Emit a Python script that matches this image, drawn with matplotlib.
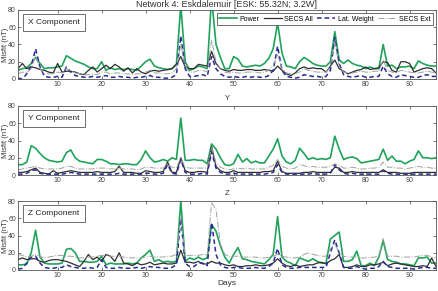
import numpy as np
import matplotlib
matplotlib.use('Agg')
import matplotlib.pyplot as plt

plt.rcParams['font.family'] = ['Liberation Sans', 'DejaVu Sans']

days = np.arange(1, 97)

# X component misfits (nT)
x_power = [10, 12, 13, 18, 25, 18, 12, 13, 13, 14, 15, 27, 24, 21, 19, 17, 14, 12, 12, 20,
           10, 13, 11, 12, 11, 12, 11, 10, 15, 20, 23, 15, 13, 12, 11, 12, 17, 85, 20, 10,
           12, 15, 14, 12, 95, 40, 25, 12, 12, 26, 23, 15, 14, 15, 16, 15, 18, 24, 35, 65,
           30, 15, 14, 12, 20, 25, 22, 18, 16, 15, 15, 20, 55, 22, 18, 22, 18, 16, 15, 12,
           14, 12, 12, 40, 15, 16, 12, 14, 14, 15, 12, 21, 18, 16, 15, 15]
x_secs_all = [12, 18, 12, 14, 13, 11, 10, 8, 7, 18, 8, 9, 9, 8, 6, 5, 10, 14, 8, 12,
              16, 12, 17, 14, 9, 13, 7, 12, 8, 6, 9, 10, 9, 10, 11, 12, 17, 26, 14, 12,
              12, 17, 16, 15, 32, 18, 12, 10, 9, 11, 10, 10, 11, 11, 10, 10, 11, 10, 9, 15,
              10, 6, 4, 7, 12, 14, 12, 13, 12, 12, 8, 15, 22, 12, 9, 6, 8, 10, 11, 14,
              11, 12, 13, 20, 19, 10, 8, 20, 20, 18, 8, 10, 12, 13, 12, 7]
x_lat_weight = [1, 0, 6, 15, 35, 14, 3, 2, 2, 3, 2, 14, 8, 4, 3, 2, 2, 3, 2, 3,
                4, 2, 2, 3, 2, 2, 1, 2, 2, 3, 4, 2, 2, 1, 1, 2, 5, 50, 12, 3,
                3, 4, 5, 3, 26, 12, 6, 3, 2, 3, 2, 2, 3, 2, 3, 2, 2, 4, 10, 38,
                10, 3, 2, 1, 2, 5, 4, 3, 3, 2, 3, 10, 48, 18, 5, 3, 2, 3, 4, 2,
                2, 3, 3, 15, 6, 3, 2, 5, 4, 3, 2, 2, 4, 5, 3, 3]
x_secs_ext = [6, 8, 7, 12, 27, 12, 6, 6, 6, 8, 7, 12, 10, 7, 6, 5, 5, 6, 5, 8,
              8, 6, 7, 7, 6, 6, 5, 6, 6, 8, 10, 7, 7, 6, 6, 7, 12, 40, 15, 8,
              8, 10, 10, 8, 45, 20, 12, 8, 7, 8, 7, 7, 8, 8, 8, 7, 8, 10, 16, 28,
              12, 7, 6, 6, 8, 12, 10, 9, 8, 8, 8, 15, 42, 15, 8, 7, 7, 8, 9, 8,
              8, 9, 9, 22, 10, 8, 7, 10, 9, 8, 7, 7, 8, 9, 8, 7]

# Y component misfits (nT)
y_power = [12, 12, 15, 34, 31, 25, 20, 17, 16, 15, 16, 26, 29, 20, 16, 15, 14, 13, 18, 18,
           16, 13, 13, 12, 13, 13, 12, 12, 18, 28, 20, 15, 16, 18, 16, 20, 18, 66, 17, 17,
           18, 17, 17, 13, 36, 30, 20, 12, 11, 13, 24, 15, 19, 14, 16, 14, 14, 22, 30, 42,
           22, 15, 13, 17, 31, 25, 18, 20, 18, 19, 18, 20, 45, 30, 18, 20, 21, 19, 14, 15,
           16, 17, 18, 30, 17, 22, 16, 16, 13, 16, 18, 28, 20, 20, 19, 20]
y_secs_all = [3, 3, 4, 6, 8, 3, 2, 1, 5, 2, 3, 4, 5, 4, 3, 3, 3, 3, 4, 3,
              3, 3, 4, 10, 3, 3, 3, 2, 2, 5, 4, 3, 3, 4, 15, 3, 3, 20, 5, 3,
              3, 4, 4, 3, 33, 10, 5, 3, 3, 5, 3, 3, 3, 3, 3, 3, 4, 4, 5, 16,
              4, 2, 2, 2, 2, 3, 3, 4, 3, 3, 3, 3, 9, 8, 3, 3, 4, 3, 3, 3,
              3, 3, 3, 6, 3, 3, 3, 2, 2, 2, 3, 3, 3, 3, 3, 3]
y_lat_weight = [1, 1, 2, 5, 6, 2, 1, 1, 1, 1, 1, 2, 3, 2, 1, 1, 1, 1, 1, 1,
                1, 1, 1, 2, 1, 1, 1, 1, 1, 2, 2, 1, 1, 2, 12, 2, 1, 18, 3, 1,
                1, 1, 2, 1, 27, 8, 3, 1, 1, 2, 1, 1, 1, 1, 1, 1, 1, 2, 3, 12,
                3, 1, 1, 1, 1, 1, 1, 2, 1, 1, 1, 2, 12, 6, 2, 1, 2, 1, 1, 1,
                1, 1, 1, 5, 2, 1, 1, 1, 1, 1, 1, 1, 1, 1, 1, 1]
y_secs_ext = [6, 7, 8, 9, 10, 8, 7, 7, 7, 7, 8, 10, 10, 8, 7, 7, 7, 7, 8, 8,
              8, 7, 7, 8, 7, 7, 7, 6, 7, 9, 9, 8, 8, 8, 12, 9, 9, 20, 9, 8,
              8, 8, 8, 8, 32, 14, 9, 7, 6, 7, 8, 7, 8, 7, 7, 7, 7, 9, 11, 18,
              10, 8, 7, 8, 12, 11, 9, 10, 9, 9, 9, 10, 13, 11, 8, 8, 9, 8, 7, 7,
              8, 8, 9, 15, 9, 9, 8, 8, 7, 8, 9, 10, 9, 9, 8, 8]

# Z component misfits (nT)
z_power = [6, 6, 7, 20, 46, 15, 8, 7, 7, 7, 8, 24, 25, 20, 10, 10, 9, 9, 10, 16,
           6, 8, 7, 7, 7, 8, 7, 8, 14, 18, 23, 10, 12, 9, 10, 9, 10, 80, 10, 14,
           12, 15, 12, 14, 53, 45, 28, 15, 8, 18, 26, 13, 12, 10, 9, 8, 7, 12, 18, 62,
           15, 10, 8, 5, 14, 12, 10, 13, 10, 8, 8, 36, 40, 44, 10, 10, 12, 22, 5, 5,
           8, 5, 15, 34, 12, 10, 9, 7, 7, 6, 5, 14, 14, 15, 8, 8]
z_secs_all = [12, 14, 12, 13, 13, 10, 9, 11, 12, 12, 11, 10, 8, 6, 4, 10, 18, 12, 15, 10,
              18, 16, 10, 20, 8, 7, 5, 8, 6, 7, 9, 6, 7, 8, 7, 7, 8, 23, 9, 9,
              8, 10, 7, 7, 10, 8, 8, 6, 5, 6, 4, 4, 5, 5, 6, 5, 5, 6, 8, 13,
              8, 5, 4, 6, 4, 5, 6, 6, 8, 9, 7, 11, 13, 18, 3, 3, 4, 6, 4, 4,
              6, 6, 7, 9, 5, 7, 8, 7, 6, 5, 4, 4, 5, 4, 14, 4]
z_lat_weight = [1, 2, 8, 15, 16, 8, 3, 2, 2, 3, 3, 6, 4, 3, 2, 2, 3, 2, 3, 12,
                3, 2, 2, 3, 2, 2, 2, 3, 2, 3, 4, 3, 3, 2, 2, 3, 6, 60, 8, 4,
                4, 8, 8, 5, 55, 18, 6, 3, 2, 3, 3, 2, 2, 2, 3, 2, 2, 4, 8, 25,
                6, 3, 2, 2, 3, 3, 3, 3, 3, 3, 3, 20, 35, 20, 3, 2, 2, 4, 2, 1,
                2, 2, 4, 10, 4, 3, 2, 2, 2, 2, 1, 2, 3, 3, 2, 2]
z_secs_ext = [18, 17, 15, 16, 18, 16, 14, 15, 16, 17, 17, 16, 16, 15, 14, 14, 15, 15, 16, 17,
              17, 16, 16, 16, 15, 14, 14, 14, 14, 15, 16, 15, 15, 15, 16, 16, 18, 60, 17, 17,
              17, 17, 18, 18, 78, 70, 30, 18, 16, 16, 16, 15, 15, 15, 15, 14, 14, 15, 16, 18,
              16, 15, 14, 14, 15, 18, 20, 18, 17, 16, 16, 25, 30, 20, 16, 15, 15, 15, 14, 14,
              14, 15, 16, 37, 16, 16, 16, 15, 15, 15, 15, 16, 17, 17, 15, 14]

panels = [
    ('X Component', 'Network 4: Eskdalemuir [ESK: 55.32N; 3.2W]', x_power, x_secs_all, x_lat_weight, x_secs_ext),
    ('Y Component', 'Y', y_power, y_secs_all, y_lat_weight, y_secs_ext),
    ('Z Component', 'Z', z_power, z_secs_all, z_lat_weight, z_secs_ext),
]

fig = plt.figure(figsize=(4.39, 2.91), dpi=100)
tops = [10, 106, 201]
for i, (label, title, power, secs_all, lat_w, secs_ext) in enumerate(panels):
    top = tops[i]
    ax = fig.add_axes([18 / 439, 1 - (top + 69) / 291, 418 / 439, 69 / 291])
    ax.plot(days, power, color='#1fa35a', lw=1.2, label='Power')
    ax.plot(days, secs_all, color='#2e2e2e', lw=0.9, label='SECS All')
    ax.plot(days, lat_w, color='#2a2a96', lw=1.1, ls=(0, (3, 2)), label='Lat. Weight')
    ax.plot(days, secs_ext, color='#a0a0a0', lw=0.7, ls='-.', label='SECS Ext')
    ax.set_xlim(1, 96)
    ax.set_ylim(0, 80)
    ax.set_xticks(range(10, 100, 10))
    ax.set_yticks(range(0, 81, 20))
    ax.tick_params(direction='in', top=True, right=True, length=2, width=0.5,
                   labelsize=5, pad=1.5, colors='#444444')
    for s in ax.spines.values():
        s.set_linewidth(0.6)
        s.set_color('#555555')
    ax.set_ylabel('Misfit (nT)', fontsize=5.5, color='#333333')
    ax.yaxis.set_label_coords(-0.021, 0.5)
    ax.set_title(title, fontsize=6.5 if i == 0 else 5.5, pad=2 if i == 0 else 4, color='#333333')
    ax.text(0.025, 0.87, label, transform=ax.transAxes, fontsize=6, va='top', ha='left',
            color='#222222',
            bbox=dict(boxstyle='square,pad=0.6', fc='white', ec='#555555', lw=0.6))
    if i == 0:
        ax.legend(loc='upper right', ncol=4, fontsize=5, handlelength=2.6,
                  handletextpad=0.4, columnspacing=0.6, borderpad=0.3,
                  frameon=True, fancybox=False, edgecolor='#555555',
                  framealpha=1, borderaxespad=0.5).get_frame().set_linewidth(0.6)
    if i == 2:
        ax.set_xlabel('Days', fontsize=6, labelpad=1, color='#333333')

fig.savefig('out.png', dpi=100)
